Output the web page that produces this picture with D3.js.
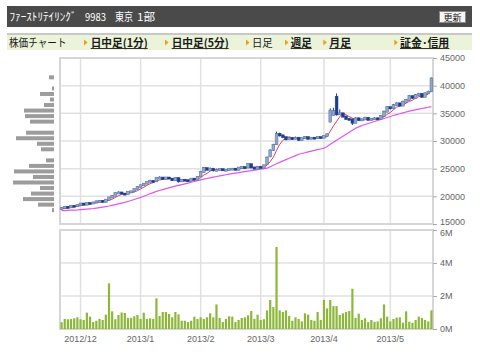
<!DOCTYPE html>
<html>
<head>
<meta charset="utf-8">
<script src="https://cdnjs.cloudflare.com/ajax/libs/d3/7.8.5/d3.min.js"></script>
<style>
body{margin:0;background:#fff;}
</style>
</head>
<body>
<div id="chart"></div>
<script>
// trading days shown on the chart
const dates = [
'2012-11-22','2012-11-26','2012-11-27','2012-11-28','2012-11-29','2012-11-30',
'2012-12-03','2012-12-04','2012-12-05','2012-12-06','2012-12-07','2012-12-10','2012-12-11','2012-12-12','2012-12-13','2012-12-14',
'2012-12-17','2012-12-18','2012-12-19','2012-12-20','2012-12-21','2012-12-25','2012-12-26','2012-12-27','2012-12-28',
'2013-01-04','2013-01-07','2013-01-08','2013-01-09','2013-01-10','2013-01-11','2013-01-15','2013-01-16','2013-01-17','2013-01-18',
'2013-01-21','2013-01-22','2013-01-23','2013-01-24','2013-01-25','2013-01-28','2013-01-29','2013-01-30','2013-01-31',
'2013-02-01','2013-02-04','2013-02-05','2013-02-06','2013-02-07','2013-02-08','2013-02-12','2013-02-13','2013-02-14','2013-02-15',
'2013-02-18','2013-02-19','2013-02-20','2013-02-21','2013-02-22','2013-02-25','2013-02-26','2013-02-27','2013-02-28',
'2013-03-01','2013-03-04','2013-03-05','2013-03-06','2013-03-07','2013-03-08','2013-03-11','2013-03-12','2013-03-13','2013-03-14',
'2013-03-15','2013-03-18','2013-03-19','2013-03-21','2013-03-22','2013-03-25','2013-03-26','2013-03-27','2013-03-28','2013-03-29',
'2013-04-01','2013-04-02','2013-04-03','2013-04-04','2013-04-05','2013-04-08','2013-04-09','2013-04-10','2013-04-11','2013-04-12',
'2013-04-15','2013-04-16','2013-04-17','2013-04-18','2013-04-19','2013-04-22','2013-04-23','2013-04-24','2013-04-25','2013-04-26','2013-04-30',
'2013-05-01','2013-05-02','2013-05-07','2013-05-08','2013-05-09','2013-05-10','2013-05-13','2013-05-14','2013-05-15','2013-05-16',
'2013-05-17','2013-05-20','2013-05-21','2013-05-22'
];

const open = [
17700,17900,18100,18000,18300,18200,18400,18700,18500,18800,
18700,18900,19100,19200,19000,19400,19800,20100,20600,20700,
20500,20400,20800,20900,21300,21700,22000,22300,22600,22800,
22700,23300,23400,23100,23400,23200,22900,23300,22700,23000,
22900,22800,23200,23000,23600,24400,25100,24800,25000,24700,
24800,24900,24700,24800,24900,25000,24800,25200,25300,25200,
25800,25200,25000,25300,25200,25800,27200,28400,29400,31300,
31000,30700,30300,30500,30400,30600,30200,30500,30700,30400,
30600,30500,30700,30600,30900,33500,34700,38000,34800,35000,
34400,34000,33900,33300,34100,33800,33900,34200,33800,34000,
34100,34000,34500,35300,36100,35900,36500,36800,36400,37100,
37400,38100,37800,38300,38500,38000,38600,39000];

const high = [
18000,18200,18200,18400,18400,18500,18800,18800,18900,18900,
19000,19200,19300,19300,19500,19900,20200,20700,20900,20800,
20600,20900,21000,21400,21800,22100,22400,22700,23000,22900,
23400,23600,23500,23500,23500,23300,23400,23400,23100,23100,
23000,23300,23300,23600,24600,25300,25200,25200,25100,25000,
25000,25000,24900,25000,25100,25100,25300,25400,25400,26000,
25900,25300,25400,25400,25700,27200,28500,29500,31700,31500,
31200,30800,30700,30700,30800,30700,30600,30900,30800,30700,
30700,30800,30800,31000,31400,35900,36000,38600,35700,35100,
34600,34200,34000,34300,34200,34100,34400,34300,34100,34300,
34200,34700,35500,36300,36200,36700,37000,36900,37300,37600,
38300,38200,38500,38700,38600,38800,39100,41500];

const low = [
17600,17800,17900,17900,18100,18100,18300,18400,18400,18600,
18600,18800,19000,18900,18900,19300,19700,20000,20500,20400,
20200,20300,20600,20800,21200,21600,21900,22200,22500,22500,
22600,23200,23000,23000,23100,22800,22800,22500,22600,22800,
22600,22700,22900,22900,23500,24300,24700,24700,24500,24600,
24700,24600,24600,24700,24800,24700,24700,25100,25000,25100,
25100,24900,24900,25100,25100,25700,27100,28200,29300,30800,
30500,30100,30200,30200,30300,30000,30100,30400,30300,30300,
30400,30400,30500,30500,30800,33400,34600,34600,34700,34300,
33800,33700,32900,33200,33600,33700,33800,33700,33700,33900,
33800,33900,34400,35200,35700,35800,36400,36200,36300,37000,
37300,37600,37700,38200,37800,37900,38500,38900];

const close = [
17900,18100,18000,18300,18200,18400,18700,18500,18800,18700,
18900,19100,19200,19000,19400,19800,20100,20600,20700,20500,
20400,20800,20900,21300,21700,22000,22300,22600,22800,22700,
23300,23400,23100,23400,23200,22900,23300,22700,23000,22900,
22800,23200,23000,23500,24400,25100,24800,25000,24700,24800,
24900,24700,24800,24900,25000,24800,25200,25300,25100,25800,
25200,25000,25300,25200,25600,27000,28300,29300,31300,31000,
30700,30300,30500,30400,30600,30200,30500,30700,30400,30600,
30500,30700,30600,30900,31200,35500,35400,34800,35000,34400,
34000,33900,33300,34100,33800,33900,34200,33800,34000,34100,
34000,34500,35300,36100,35900,36500,36800,36400,37100,37400,
38100,37800,38300,38500,38000,38600,38900,41300];

// short moving average (red)
const maShort = [
17700,17800,17900,18000,18100,18200,18320,18420,18520,18620,
18720,18800,18940,18980,19120,19300,19500,19780,20120,20340,
20460,20600,20660,20780,21020,21340,21640,21980,22280,22480,
22740,22960,23060,23180,23280,23200,23180,23100,23020,22960,
22940,22920,22980,23080,23380,23840,24160,24560,24800,24880,
24840,24820,24780,24820,24860,24840,24940,25040,25080,25240,
25320,25280,25280,25300,25260,25620,26280,27080,28300,29380,
30120,30520,30760,30580,30500,30400,30440,30480,30480,30480,
30540,30580,30560,30660,30780,31780,32720,33560,34380,35020,
34720,34420,34120,33940,33820,33800,33860,33960,33940,34000,
34020,34080,34380,34800,35160,35660,36120,36340,36540,36840,
37160,37360,37740,38020,38140,38240,38460,39060];

// long moving average (magenta)
const maLong = [
17400,17430,17460,17490,17520,17550,17600,17650,17700,17750,
17800,17880,17960,18050,18150,18250,18370,18500,18630,18760,
18900,19070,19250,19430,19610,19800,20020,20240,20460,20680,
20900,21060,21220,21380,21540,21700,21840,21980,22120,22260,
22400,22540,22680,22820,22960,23100,23220,23340,23460,23580,
23700,23800,23900,24000,24100,24200,24290,24380,24470,24560,
24650,24730,24810,24900,25000,25100,25360,25620,25880,26140,
26400,26640,26880,27120,27360,27600,27740,27880,28020,28160,
28300,28430,28560,28700,29000,29400,29770,30140,30500,30850,
31200,31570,31940,32300,32550,32800,32980,33160,33340,33520,
33700,33880,34060,34240,34420,34600,34760,34920,35080,35240,
35400,35520,35640,35760,35880,36000,36100,36200];

// volume in millions of shares
const volume = [
0.41,0.61,0.59,0.61,0.65,0.71,0.59,0.55,0.99,0.75,
0.42,0.50,0.61,0.55,0.87,2.77,1.07,0.59,0.85,1.00,
0.97,0.67,0.67,0.77,0.85,0.61,0.99,0.61,0.65,0.61,
1.86,0.79,1.03,1.03,0.91,0.71,1.03,0.89,0.50,0.50,
0.42,0.50,0.75,0.61,0.71,0.61,0.71,0.95,0.71,1.49,
0.67,0.42,0.61,0.77,0.75,0.42,0.55,0.67,0.71,0.83,
1.09,0.61,0.87,0.55,0.59,1.13,1.76,1.33,4.97,1.13,
1.03,1.13,0.79,0.50,0.71,0.61,0.46,0.95,0.87,0.55,
0.50,1.03,0.55,1.76,1.25,1.76,1.39,1.39,0.85,0.95,
1.03,1.09,2.44,0.67,0.93,0.55,0.65,0.42,0.55,0.44,
0.46,0.65,1.49,0.75,0.46,0.61,0.69,0.71,0.38,1.07,
0.44,0.38,0.55,0.75,0.67,0.55,0.46,1.13];

// volume by price (left histogram)
const bandPrices = [41500,40500,39500,38500,37500,36500,35500,34500,33500,32500,31500,30500,29500,
  28500,27500,26500,25500,24500,23500,22500,21500,20500,19500,18500,17500];
const bandVolume = [5,0,2,14,4,10,30,29,24,0,28,38,17,13,0,8,25,40,21,41,14,23,31,16,2];

const priceTicks = [15000,20000,25000,30000,35000,40000,45000];
const volumeTicks = [0,2,4,6];
const monthDates = ['2012-12-03','2013-01-04','2013-02-01','2013-03-01','2013-04-01','2013-05-01'];
const monthLabels = ['2012/12','2013/1','2013/2','2013/3','2013/4','2013/5'];

const navItems = ['株価チャート','日中足(1分)','日中足(5分)','日足','週足','月足','証金･信用'];


const left = 60, right = 433;
const priceTop = 58, priceBottom = 224;
const volTop = 230, volBottom = 329;
const gridColor = '#e1e1e1';

const svg = d3.select('#chart')
.append('svg')
.attr('width',480)
.attr('height',355)
.style('font-family','"Liberation Sans", Arial, sans-serif');

// header bar
svg.append('rect')
.attr('x',7).attr('y',6)
.attr('width',465).attr('height',21)
.attr('fill','#4a4a4a');

const titleParts = [
  {t:'ﾌｧｰｽﾄﾘﾃｲﾘﾝｸﾞ', x:9.5, w:67},
  {t:'9983', x:85, w:21},
  {t:'東京', x:115, w:18},
  {t:'1部', x:137, w:18}
];
svg.append('g').selectAll('text')
.data(titleParts)
.enter()
.append('text')
.attr('x',d=>d.x).attr('y',20.5)
.attr('textLength',d=>d.w)
.attr('lengthAdjust','spacingAndGlyphs')
.attr('fill','#fff')
.style('font-family','"Noto Sans CJK JP", sans-serif')
.style('font-size','11px')
.text(d=>d.t);

// 更新 button
svg.append('rect')
.attr('x',439.5).attr('y',11.5)
.attr('width',26).attr('height',11)
.attr('fill','#f5f5f5')
.attr('stroke','#888');
svg.append('text')
.attr('x',452.5).attr('y',21)
.attr('text-anchor','middle')
.style('font-family','"Noto Sans CJK JP", sans-serif')
.style('font-size','9px')
.attr('fill','#111')
.text('更新');

// nav bar
svg.append('rect')
.attr('x',7).attr('y',34)
.attr('width',465).attr('height',16)
.attr('fill','#ebf4d8');
svg.append('line')
.attr('x1',7).attr('x2',472)
.attr('y1',34).attr('y2',34)
.attr('stroke','#c8c8c8')
.attr('stroke-width',2);

const navLayout = [
  {x:9, w:57.5, link:false, arrow:null},
  {x:90.7, w:57, link:true, arrow:84},
  {x:171.7, w:57, link:true, arrow:165},
  {x:252, w:20.7, link:false, arrow:246},
  {x:290.7, w:21, link:true, arrow:285},
  {x:329.3, w:21.7, link:true, arrow:323.3},
  {x:400, w:49.3, link:true, arrow:394.3}
];

const nav = svg.append('g')
.selectAll('g')
.data(navItems)
.enter()
.append('g');

nav.append('text')
.attr('x',(d,i)=>navLayout[i].x)
.attr('y',46.5)
.attr('textLength',(d,i)=>navLayout[i].w)
.attr('lengthAdjust','spacingAndGlyphs')
.attr('fill','#1a1a1a')
.style('font-family','"Noto Sans CJK JP", sans-serif')
.style('font-size','11px')
.style('font-weight',(d,i)=>navLayout[i].link ? 'bold' : 'normal')
.text(d=>d);

nav.filter((d,i)=>navLayout[i].link)
.append('line')
.attr('x1',function(){ return navLayout[navItems.indexOf(d3.select(this.parentNode).datum())].x; })
.attr('x2',function(){ const l = navLayout[navItems.indexOf(d3.select(this.parentNode).datum())]; return l.x + l.w; })
.attr('y1',48.5).attr('y2',48.5)
.attr('stroke','#333')
.attr('stroke-width',1);

nav.filter((d,i)=>navLayout[i].arrow !== null)
.append('path')
.attr('d',function(){
  const a = navLayout[navItems.indexOf(d3.select(this.parentNode).datum())].arrow;
  return `M${a},${39.5}L${a+3.5},${42.5}L${a},${45.5}Z`;
})
.attr('fill','#f29a1c');


// scales
const x = d3.scaleBand()
.domain(dates)
.range([left,right]);

const yPrice = d3.scaleLinear()
.domain([15000,45000])
.range([priceBottom,priceTop]);

const yVol = d3.scaleLinear()
.domain([0,6])
.range([volBottom,volTop]);

const xHist = d3.scaleLinear()
.domain([0,41])
.range([0,41]);

const cx = d => x(d) + x.bandwidth()/2;

// frames and grid
function panel(top,bottom,yScale,ticks){
  const g = svg.append('g');
  g.append('rect')
  .attr('x',left).attr('y',top)
  .attr('width',right-left).attr('height',bottom-top)
  .attr('fill','#fff');
  g.selectAll('.hgrid')
  .data(ticks)
  .enter()
  .append('line')
  .attr('x1',left).attr('x2',right)
  .attr('y1',d=>yScale(d)).attr('y2',d=>yScale(d))
  .attr('stroke',gridColor)
  .attr('stroke-width',1.5);
  g.selectAll('.vgrid')
  .data(monthDates)
  .enter()
  .append('line')
  .attr('x1',d=>cx(d)).attr('x2',d=>cx(d))
  .attr('y1',top).attr('y2',bottom)
  .attr('stroke',gridColor)
  .attr('stroke-width',1.5);
  g.append('rect')
  .attr('x',left).attr('y',top)
  .attr('width',right-left).attr('height',bottom-top)
  .attr('fill','none')
  .attr('stroke','#d6d6d6')
  .attr('stroke-width',2);
}
panel(priceTop,priceBottom,yPrice,priceTicks);
panel(volTop,volBottom,yVol,volumeTicks);

// right axes
function styleAxis(g){
  g.select('.domain').remove();
  g.selectAll('.tick line').attr('stroke','#aaa');
  g.selectAll('.tick text')
  .attr('fill','#666')
  .style('font-size','9px')
  .style('font-family','"Liberation Sans", Arial, sans-serif');
}

// 15000 and 6M sit almost on top of each other, nudge them apart
svg.append('g')
.attr('transform',`translate(${right},0)`)
.call(d3.axisRight(yPrice).tickValues(priceTicks).tickSize(4).tickPadding(3).tickFormat(d3.format('d')))
.call(styleAxis)
.selectAll('.tick text')
.attr('dy',d=>d===15000 ? '0.1em' : '0.32em');

svg.append('g')
.attr('transform',`translate(${right},0)`)
.call(d3.axisRight(yVol).tickValues(volumeTicks).tickSize(4).tickPadding(3).tickFormat(d=>d+'M'))
.call(styleAxis)
.selectAll('.tick text')
.attr('dy',d=>d===6 ? '0.65em' : '0.32em');

// month labels
svg.append('g')
.selectAll('text')
.data(monthDates)
.enter()
.append('text')
.attr('x',d=>cx(d))
.attr('y',342)
.attr('text-anchor','middle')
.attr('fill','#666')
.style('font-size','9px')
.text((d,i)=>monthLabels[i]);

// volume by price
svg.append('g')
.selectAll('rect')
.data(bandPrices)
.enter()
.append('rect')
.attr('x',(d,i)=>54 - xHist(bandVolume[i]))
.attr('y',d=>yPrice(d) - 2)
.attr('width',(d,i)=>xHist(bandVolume[i]))
.attr('height',4)
.attr('fill','#9c9c9c');

// volume bars
svg.append('g')
.selectAll('rect')
.data(dates)
.enter()
.append('rect')
.attr('x',d=>cx(d) - 1.1)
.attr('y',(d,i)=>yVol(volume[i]))
.attr('width',2.2)
.attr('height',(d,i)=>yVol(0) - yVol(volume[i]))
.attr('fill','#8cb83a');

// moving averages
const lineLong = d3.line()
.x((d,i)=>cx(dates[i]))
.y(d=>yPrice(d));

svg.append('path')
.attr('d',lineLong(maLong))
.attr('fill','none')
.attr('stroke','#e056ee')
.attr('stroke-width',1.2);

svg.append('path')
.attr('d',lineLong(maShort))
.attr('fill','none')
.attr('stroke','#e8385a')
.attr('stroke-width',1);

// candles
const candles = svg.append('g')
.selectAll('g')
.data(dates)
.enter()
.append('g');

candles.append('line')
.attr('x1',d=>cx(d)).attr('x2',d=>cx(d))
.attr('y1',(d,i)=>yPrice(high[i]))
.attr('y2',(d,i)=>yPrice(low[i]))
.attr('stroke','#1f3d8a')
.attr('stroke-width',1);

candles.append('rect')
.attr('x',d=>cx(d) - 1.4)
.attr('y',(d,i)=>yPrice(Math.max(open[i],close[i])) - 0.5)
.attr('width',2.8)
.attr('height',(d,i)=>Math.max(2, Math.abs(yPrice(open[i]) - yPrice(close[i])) + 1))
.attr('fill',(d,i)=>close[i] >= open[i] ? '#8fa7cb' : '#1f3d8a')
.attr('stroke',(d,i)=>close[i] >= open[i] ? '#4f6ea3' : '#1f3d8a')
.attr('stroke-width',0.5);
</script>
</body>
</html>
